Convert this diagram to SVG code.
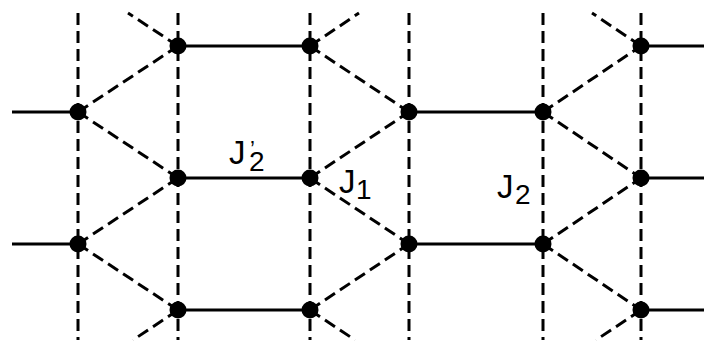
<svg xmlns="http://www.w3.org/2000/svg" width="704" height="348" viewBox="0 0 704 348">
  <style>
    .bond { stroke: #000; stroke-width: 3.2; fill: none; }
    .dash { stroke: #000; stroke-width: 3; fill: none; stroke-dasharray: 12 6; }
    .site { fill: #000; }
    .lbl { font-family: "Liberation Sans", Arial, sans-serif; font-size: 33px; fill: #000; }
    .sub { font-size: 28px; }
    .prime { font-size: 22px; }
  </style>
  <rect width="704" height="348" fill="#fff"/>

  <!-- couplings: dashed vertical columns, dashed diagonals, solid rungs -->
  <g id="connectors">
    <g id="columns">
      <line class="dash" x1="78" y1="13" x2="78" y2="340"/>
      <line class="dash" x1="178" y1="13" x2="178" y2="340"/>
      <line class="dash" x1="310" y1="13" x2="310" y2="340"/>
      <line class="dash" x1="409" y1="13" x2="409" y2="340"/>
      <line class="dash" x1="543" y1="13" x2="543" y2="340"/>
      <line class="dash" x1="641" y1="13" x2="641" y2="340"/>
    </g>
    <g id="diagonals">
      <line class="dash" x1="178" y1="46" x2="128" y2="13"/>
      <line class="dash" x1="310" y1="46" x2="359" y2="13"/>
      <line class="dash" x1="641" y1="46" x2="592" y2="13"/>
      <line class="dash" x1="178" y1="310" x2="133" y2="340"/>
      <line class="dash" x1="310" y1="310" x2="355" y2="340"/>
      <line class="dash" x1="641" y1="310" x2="596" y2="340"/>

      <line class="dash" x1="78" y1="112" x2="178" y2="46"/>
      <line class="dash" x1="78" y1="112" x2="178" y2="178"/>
      <line class="dash" x1="78" y1="244" x2="178" y2="178"/>
      <line class="dash" x1="78" y1="244" x2="178" y2="310"/>

      <line class="dash" x1="310" y1="46" x2="409" y2="112"/>
      <line class="dash" x1="310" y1="178" x2="409" y2="112"/>
      <line class="dash" x1="310" y1="178" x2="409" y2="244"/>
      <line class="dash" x1="310" y1="310" x2="409" y2="244"/>

      <line class="dash" x1="543" y1="112" x2="641" y2="46"/>
      <line class="dash" x1="543" y1="112" x2="641" y2="178"/>
      <line class="dash" x1="543" y1="244" x2="641" y2="178"/>
      <line class="dash" x1="543" y1="244" x2="641" y2="310"/>
    </g>
    <g id="rungs">
      <line class="bond" x1="12" y1="112" x2="78" y2="112"/>
      <line class="bond" x1="12" y1="244" x2="78" y2="244"/>
      <line class="bond" x1="178" y1="46" x2="310" y2="46"/>
      <line class="bond" x1="178" y1="178" x2="310" y2="178"/>
      <line class="bond" x1="178" y1="310" x2="310" y2="310"/>
      <line class="bond" x1="409" y1="112" x2="543" y2="112"/>
      <line class="bond" x1="409" y1="244" x2="543" y2="244"/>
      <line class="bond" x1="641" y1="46" x2="704" y2="46"/>
      <line class="bond" x1="641" y1="178" x2="704" y2="178"/>
      <line class="bond" x1="641" y1="310" x2="704" y2="310"/>
    </g>
  </g>

  <!-- lattice sites -->
  <g id="site-a1"><circle class="site" cx="78" cy="112" r="8.5"/></g>
  <g id="site-a2"><circle class="site" cx="78" cy="244" r="8.5"/></g>
  <g id="site-b1"><circle class="site" cx="178" cy="46" r="8.5"/></g>
  <g id="site-b2"><circle class="site" cx="178" cy="178" r="8.5"/></g>
  <g id="site-b3"><circle class="site" cx="178" cy="310" r="8.5"/></g>
  <g id="site-c1"><circle class="site" cx="310" cy="46" r="8.5"/></g>
  <g id="site-c2"><circle class="site" cx="310" cy="178" r="8.5"/></g>
  <g id="site-c3"><circle class="site" cx="310" cy="310" r="8.5"/></g>
  <g id="site-d1"><circle class="site" cx="409" cy="112" r="8.5"/></g>
  <g id="site-d2"><circle class="site" cx="409" cy="244" r="8.5"/></g>
  <g id="site-e1"><circle class="site" cx="543" cy="112" r="8.5"/></g>
  <g id="site-e2"><circle class="site" cx="543" cy="244" r="8.5"/></g>
  <g id="site-f1"><circle class="site" cx="641" cy="46" r="8.5"/></g>
  <g id="site-f2"><circle class="site" cx="641" cy="178" r="8.5"/></g>
  <g id="site-f3"><circle class="site" cx="641" cy="310" r="8.5"/></g>

  <!-- coupling labels -->
  <g id="labels">
    <text class="lbl" x="229" y="164">J<tspan x="250" y="156" class="prime">’</tspan><tspan x="249" y="171" class="sub">2</tspan></text>
    <text class="lbl" x="339" y="193">J<tspan x="356" y="199" class="sub">1</tspan></text>
    <text class="lbl" x="497" y="198">J<tspan x="515" y="204" class="sub">2</tspan></text>
  </g>
</svg>
